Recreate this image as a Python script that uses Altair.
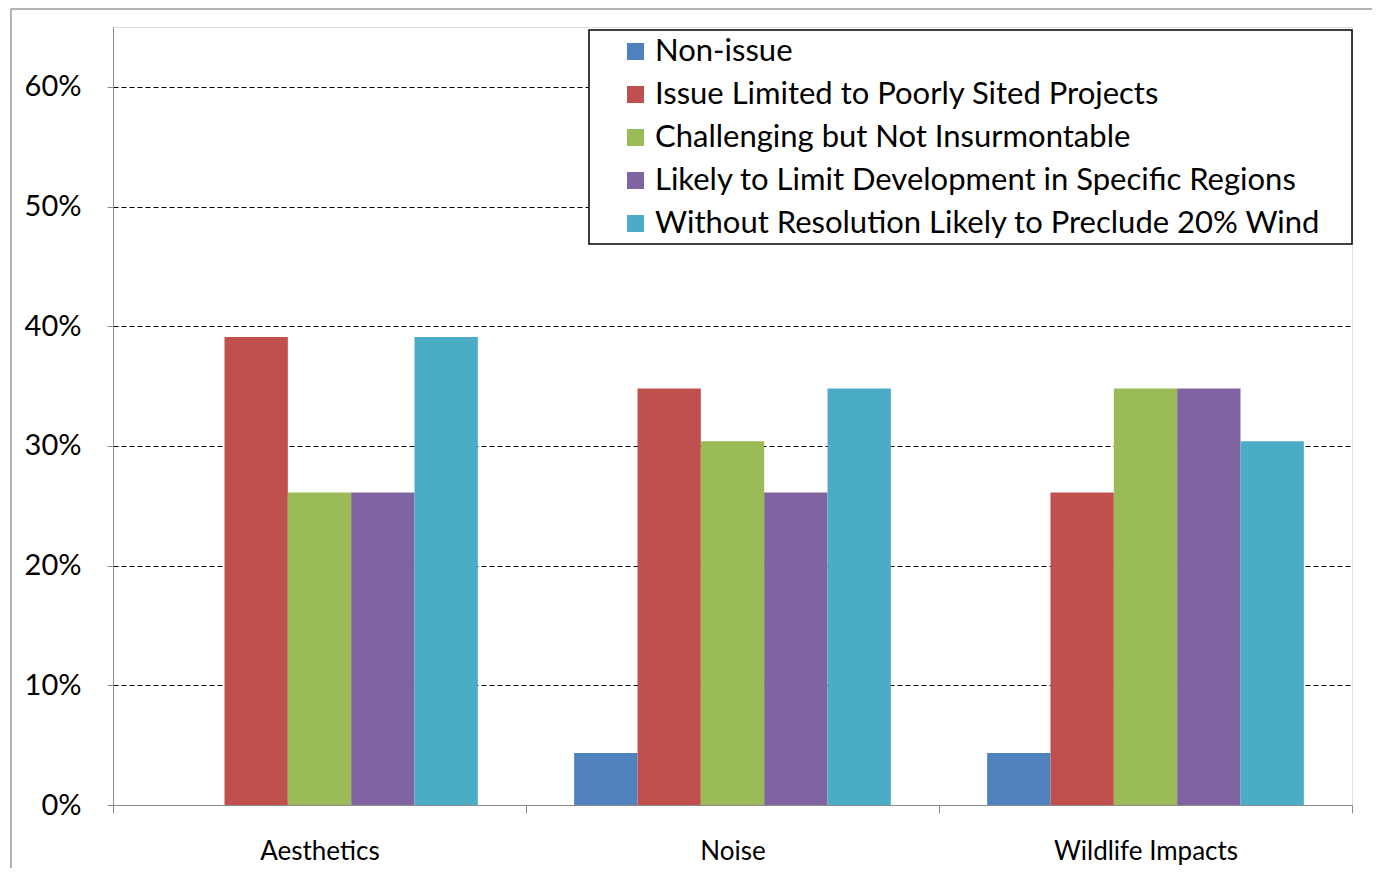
import altair as alt
import pandas as pd

categories = ["Aesthetics", "Noise", "Wildlife Impacts"]
series = [
    "Non-issue",
    "Issue Limited to Poorly Sited Projects",
    "Challenging but Not Insurmontable",
    "Likely to Limit Development in Specific Regions",
    "Without Resolution Likely to Preclude 20% Wind",
]
colors = ["#4F81BD", "#C0504D", "#9BBB59", "#8064A2", "#4BACC6"]

non_issue = [0.0, 0.0435, 0.0435]
limited = [0.391, 0.348, 0.261]
challenging = [0.261, 0.304, 0.348]
likely_limit = [0.261, 0.261, 0.348]
preclude = [0.391, 0.348, 0.304]

y_ticks = [0, 0.1, 0.2, 0.3, 0.4, 0.5, 0.6]

rows = []
for s, vals in zip(series, [non_issue, limited, challenging, likely_limit, preclude]):
    for c, v in zip(categories, vals):
        rows.append({"Category": c, "Series": s, "Value": v})
df = pd.DataFrame(rows)

FONT = "Lato"
W, H = 1239, 778

bars = alt.Chart(df).mark_bar().encode(
    x=alt.X("Category:N", sort=categories,
            scale=alt.Scale(paddingInner=0, paddingOuter=0),
            axis=alt.Axis(title=None, labelAngle=0, tickBand="extent", tickSize=8,
                          domainColor="#8c8c8c", tickColor="#8c8c8c", labelFontSize=26,
                          labelFont=FONT, labelColor="black", labelPadding=25, grid=False,
                          labelLimit=400)),
    xOffset=alt.XOffset("Series:N", sort=series,
                        scale=alt.Scale(paddingInner=0, paddingOuter=0.76)),
    y=alt.Y("Value:Q", scale=alt.Scale(domain=[0, 0.65], nice=False),
            axis=alt.Axis(title=None, format=".0%", values=y_ticks, tickSize=6,
                          domainColor="#8c8c8c", tickColor="#8c8c8c",
                          labelFontSize=29, labelFont=FONT, labelColor="black",
                          labelPadding=26,
                          grid=True, gridColor="black", gridDash=[5, 3], gridWidth=1,
                          gridOpacity={"condition": {"test": "datum.value === 0", "value": 0}, "value": 1})),
    color=alt.Color("Series:N", sort=series,
                    scale=alt.Scale(domain=series, range=colors),
                    legend=alt.Legend(title=None, orient="none", legendX=507, legendY=9,
                                      padding=0, symbolType="square", symbolSize=289,
                                      symbolStrokeWidth=0, labelFontSize=31, labelFont=FONT,
                                      labelColor="black", labelOffset=4, rowPadding=11,
                                      labelLimit=900)),
)

legend_box = alt.Chart(pd.DataFrame({"k": [0]})).mark_rect(
    fill="white", stroke="black", strokeWidth=1.5
).encode(x=alt.value(476), x2=alt.value(1239), y=alt.value(3), y2=alt.value(217))

frame_left = alt.Chart(pd.DataFrame({"k": [0]})).mark_rule(color="#9a9a9a", strokeWidth=1.5).encode(
    x=alt.value(-102), y=alt.value(-18), y2=alt.value(860))
frame_top = alt.Chart(pd.DataFrame({"k": [0]})).mark_rule(color="#9a9a9a", strokeWidth=1.5).encode(
    x=alt.value(-102), x2=alt.value(1260), y=alt.value(-18))

chart = alt.layer(bars, legend_box, frame_left, frame_top).properties(
    width=W, height=H,
    autosize=alt.AutoSizeParams(type="none"),
    padding={"left": 105, "top": 19, "right": 20, "bottom": 63},
).configure_view(stroke=None).configure(font=FONT)

chart.save("out.html", embed_options={"renderer": "svg", "actions": False})
